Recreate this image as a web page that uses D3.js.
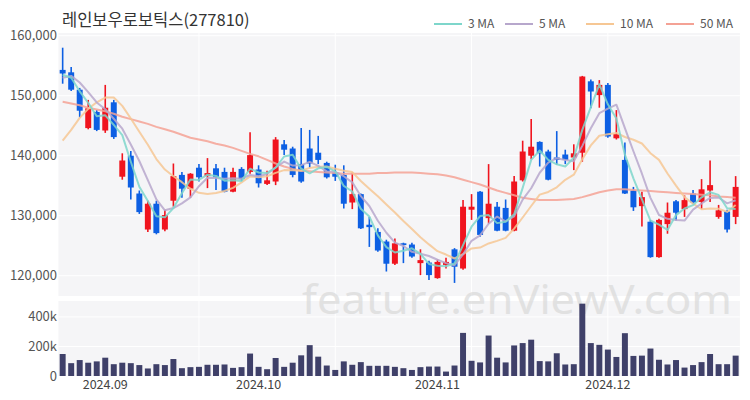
<!DOCTYPE html>
<html>
<head>
<meta charset="utf-8">
<script src="https://cdn.jsdelivr.net/npm/d3@7"></script>
<style>
  html, body { margin: 0; padding: 0; background: #fff; }
  svg { display: block; font-family: "Noto Sans CJK KR", "Noto Sans", sans-serif; }
</style>
</head>
<body>
<svg id="chart" width="750" height="400"></svg>
<script>
// ---------- data ----------
const title = "레인보우로보틱스(277810)";
const opens  = [154300,153900,151000,144600,147300,144200,148900,136500,140000,133700,
                127700,132000,127700,132500,136800,134500,138000,136600,137900,137300,
                134000,137800,137300,137700,135300,135700,141900,141200,138600,141200,
                140500,138800,137200,136800,132200,133600,128500,127300,125700,122000,
                125400,125200,122100,122200,119600,121800,124400,121200,131000,134000,
                129600,131500,131300,127500,135900,140000,142300,140700,139700,140200,
                139700,140500,152400,150100,151800,142900,139300,134200,131600,129000,
                123100,128600,132400,131100,133700,132300,134200,129800,130700,129800];
const highs  = [158000,154800,151300,149300,147600,151800,149300,140400,140800,134200,
                132500,132500,131000,138700,137300,137100,138600,139600,138600,138000,
                138000,138100,143900,138400,137500,143100,142600,141500,144600,144300,
                143300,139000,138500,138400,137200,133700,129800,127900,126000,126200,
                125500,125500,124400,122500,122700,123000,124600,132600,133600,134100,
                138600,132300,132700,136600,142500,146100,142400,141000,144100,141000,
                141900,153300,152700,152600,152100,147600,142200,134800,134000,129300,
                129500,132200,132600,133400,134300,136100,139200,131800,131000,136600];
const lows   = [152000,150800,146400,144400,144100,143800,142800,136000,132700,130300,
                127300,126900,127400,131500,133000,133000,135700,134600,134300,133900,
                133900,135800,137000,134700,135100,135100,140100,136400,135500,138000,
                138600,136200,135800,131200,131100,127800,124800,124000,120700,121800,
                122100,123000,120100,119300,119500,121200,118800,121000,129300,126500,
                128700,127400,127400,127400,135700,139400,138200,135900,138500,138600,
                137600,139000,147900,148000,143000,142700,133600,130800,128200,123000,
                123000,127000,129200,129800,132000,131100,132300,129500,127200,128600];
const closes = [153700,151000,147500,147900,144300,148000,143100,139200,134700,130600,
                132000,127100,130100,136600,134500,137000,136400,137100,136400,134000,
                137300,136100,140100,135400,135900,142700,141000,136800,135700,138700,
                139300,136400,136500,132000,133600,127900,128100,124200,122000,125400,
                125100,123200,122600,120100,122300,122300,121500,131500,131500,126800,
                132000,127500,127500,135700,140700,141500,140400,136000,139300,139300,
                140400,153200,150700,151800,143200,143600,133700,131400,133100,123100,
                129300,130500,130500,132600,132200,134400,135100,130900,127700,134800];
const volumes = [149000,87000,108000,90000,99000,124000,80000,90000,87000,74000,
                 51000,80000,74000,115000,53000,60000,62000,76000,76000,78000,
                 55000,60000,152000,62000,46000,122000,62000,90000,140000,209000,
                 131000,71000,41000,99000,76000,94000,69000,69000,69000,62000,
                 53000,41000,60000,64000,64000,30000,71000,292000,103000,92000,
                 274000,124000,92000,207000,223000,246000,101000,99000,154000,78000,
                 80000,490000,223000,211000,179000,129000,290000,136000,138000,186000,
                 110000,78000,108000,57000,74000,94000,149000,80000,80000,138000];
// moving-average values before enough visible closes exist
const ma3Lead  = [153500,153000];
const ma5Lead  = [153000,153300,152200,150600];
const ma10Lead = [142500,144300,146300,147800,148900,149700,149700,148300,146200];
// 50-day moving average
const ma50 = [149000,148700,148400,148000,147700,147400,147000,146500,146100,145700,
              145300,144800,144400,144000,143500,143000,142700,142400,142000,141700,
              141300,140800,140300,139900,139300,138700,138200,137800,137500,137400,
              137300,137200,137100,137000,137000,137000,137000,137100,137100,137200,
              137200,137200,137100,137000,136900,136700,136400,136000,135600,135200,
              134700,134200,133800,133400,133000,132800,132600,132600,132600,132700,
              132800,133100,133500,133900,134200,134400,134400,134300,134200,134100,
              134000,133900,133800,133700,133600,133500,133400,133200,133100,133000];
const priceTicks = [120000,130000,140000,150000,160000];
const volTicks = [0,200000,400000];
const volTickLabels = ["0","200k","400k"];
const monthTickIdx = [5,23,44,64];
const monthTickLabels = ["2024.09","2024.10","2024.11","2024.12"];
const gridIdx = [16,32,48,64];
const maNames = ["3 MA","5 MA","10 MA","50 MA"];
const maColors = ["#7ed6cb","#b7a7cc","#f6c794","#f4a295"];

// ---------- helpers ----------
function rolling(arr, n, lead) {
  return arr.map((v, i) => i < n - 1 ? lead[i] : d3.mean(arr.slice(i - n + 1, i + 1)));
}
const ma3 = rolling(closes, 3, ma3Lead);
const ma5 = rolling(closes, 5, ma5Lead);
const ma10 = rolling(closes, 10, ma10Lead);
const maSeries = [ma3, ma5, ma10, ma50];

const idx = d3.range(closes.length);
const svg = d3.select("#chart");

const plotL = 58.4, plotR = 739.9;
const pTop = 33, pBot = 296, vTop = 301, vBot = 376;

const x = d3.scaleBand().domain(idx).range([plotL, plotR]).paddingInner(0.3).paddingOuter(0.15);
const xc = i => x(i) + x.bandwidth() / 2;
const y = d3.scaleLinear().domain([116620, 160450]).range([pBot, pTop]);
const yv = d3.scaleLinear().domain([0, 508000]).range([vBot, vTop]);

// backgrounds
svg.append("rect").attr("x", plotL).attr("y", pTop).attr("width", plotR - plotL).attr("height", pBot - pTop).attr("fill", "#f5f5f7");
svg.append("rect").attr("x", plotL).attr("y", vTop).attr("width", plotR - plotL).attr("height", vBot - vTop).attr("fill", "#f5f5f7");

// grid
svg.append("g").selectAll("line").data(priceTicks).join("line")
  .attr("x1", plotL).attr("x2", plotR).attr("y1", d => y(d)).attr("y2", d => y(d))
  .attr("stroke", "#ffffff").attr("stroke-width", 1);
svg.append("g").selectAll("line").data(volTicks.slice(1)).join("line")
  .attr("x1", plotL).attr("x2", plotR).attr("y1", d => yv(d)).attr("y2", d => yv(d))
  .attr("stroke", "#ffffff").attr("stroke-width", 1);
svg.append("g").selectAll("line").data(gridIdx).join("line")
  .attr("x1", d => xc(d)).attr("x2", d => xc(d)).attr("y1", pTop).attr("y2", pBot)
  .attr("stroke", "#ffffff").attr("stroke-width", 1);
svg.append("g").selectAll("line").data(gridIdx).join("line")
  .attr("x1", d => xc(d)).attr("x2", d => xc(d)).attr("y1", vTop).attr("y2", vBot)
  .attr("stroke", "#ffffff").attr("stroke-width", 1);

// watermark
svg.append("text").attr("x", 302).attr("y", 314)
  .attr("font-family", "'Noto Sans', sans-serif").attr("font-size", 40)
  .attr("textLength", 430).attr("lengthAdjust", "spacingAndGlyphs")
  .attr("fill", "#d9d9d9").attr("opacity", 0.7)
  .text("feature.enViewV.com");

// volume bars
svg.append("g").selectAll("rect").data(idx).join("rect")
  .attr("x", i => x(i)).attr("width", x.bandwidth())
  .attr("y", i => yv(volumes[i])).attr("height", i => yv(0) - yv(volumes[i]))
  .attr("fill", "#3f4069");

// candles
const up = "#f0141e", down = "#0d5fe3";
const cg = svg.append("g");
cg.selectAll("line").data(idx).join("line")
  .attr("x1", i => xc(i)).attr("x2", i => xc(i))
  .attr("y1", i => y(highs[i])).attr("y2", i => y(lows[i]))
  .attr("stroke", i => closes[i] >= opens[i] ? up : down).attr("stroke-width", 1.6);
cg.selectAll("rect").data(idx).join("rect")
  .attr("x", i => x(i)).attr("width", x.bandwidth())
  .attr("y", i => y(Math.max(opens[i], closes[i])))
  .attr("height", i => Math.max(1.2, Math.abs(y(opens[i]) - y(closes[i]))))
  .attr("fill", i => closes[i] >= opens[i] ? up : down);

// moving averages
const line = d3.line().x((d, i) => xc(i)).y(d => y(d)).curve(d3.curveLinear);
[3, 2, 1, 0].forEach(k => {
  svg.append("path").datum(maSeries[k]).attr("d", line)
    .attr("fill", "none").attr("stroke", maColors[k]).attr("stroke-width", 2)
    .attr("stroke-opacity", 0.85).attr("stroke-linejoin", "round");
});

// axes labels
const axisColor = "#555";
svg.append("g").selectAll("text").data(priceTicks).join("text")
  .attr("x", 57).attr("y", d => y(d)).attr("dy", "0.35em").attr("text-anchor", "end")
  .attr("font-size", 13).attr("fill", axisColor).text(d => d3.format(",")(d));
svg.append("g").selectAll("text").data(volTicks).join("text")
  .attr("x", 57).attr("y", d => yv(d)).attr("dy", "0.35em").attr("text-anchor", "end")
  .attr("font-size", 13).attr("fill", axisColor).text((d, i) => volTickLabels[i]);
svg.append("g").selectAll("text").data(monthTickIdx).join("text")
  .attr("x", d => xc(d)).attr("y", 385).attr("dy", "0.35em").attr("text-anchor", "middle")
  .attr("font-size", 12.5).attr("fill", "#444").text((d, i) => monthTickLabels[i]);

// title
svg.append("text").attr("x", 62).attr("y", 20).attr("dy", "0.35em")
  .attr("font-size", 16.5).attr("fill", "#333").text(title);

// legend
const legX = [434, 505, 586, 666];
maNames.forEach((n, k) => {
  svg.append("line").attr("x1", legX[k]).attr("x2", legX[k] + 28).attr("y1", 24).attr("y2", 24)
    .attr("stroke", maColors[k]).attr("stroke-width", 2);
  svg.append("text").attr("x", legX[k] + 34).attr("y", 24).attr("dy", "0.35em")
    .attr("font-size", 12).attr("fill", "#555").text(n);
});
</script>
</body>
</html>
